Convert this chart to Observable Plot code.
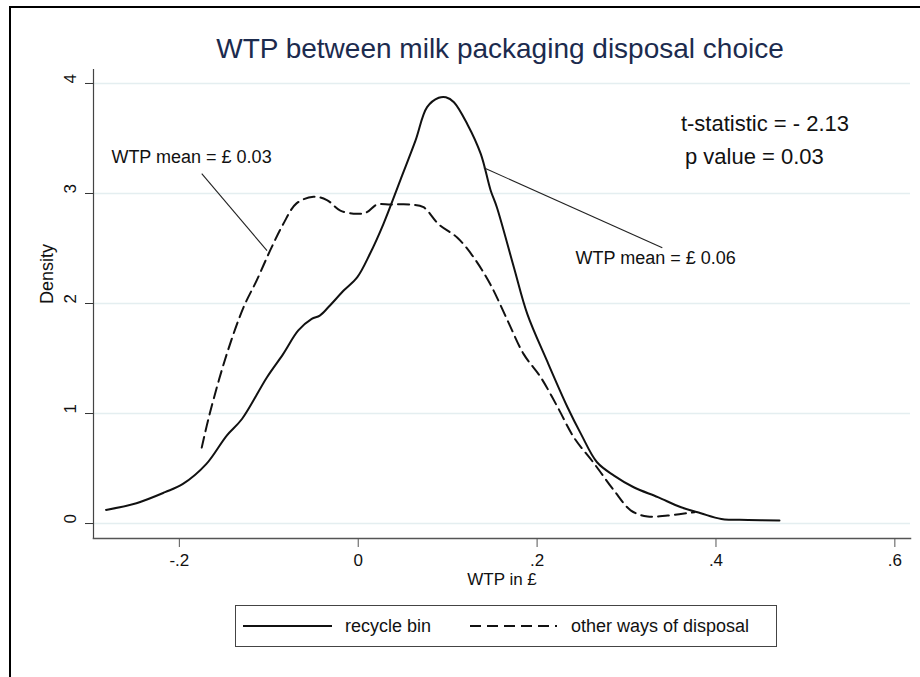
<!DOCTYPE html>
<html>
<head>
<meta charset="utf-8">
<script src="https://cdn.jsdelivr.net/npm/d3@7"></script>
<script src="https://cdn.jsdelivr.net/npm/@observablehq/plot@0.6"></script>
<style>
  html, body { margin: 0; padding: 0; background: #fff; }
  body { font-family: "Liberation Sans", Arial, sans-serif; }
  #wrap { position: relative; width: 920px; height: 677px; overflow: hidden; background: #fff; }
  #frame { position: absolute; left: 9px; top: 6px; width: 940px; height: 700px; border-left: 2px solid #000; border-top: 2px solid #000; box-sizing: border-box; }
  #title { position: absolute; left: 200px; width: 600px; top: 35px; text-align: center; font-size: 28px; line-height: 28px; color: #1c2b4e; white-space: nowrap; }
  #chart { position: absolute; left: 0; top: 0; }
  #legend { position: absolute; left: 235px; top: 605px; width: 542px; height: 42px; border: 1.5px solid #444; box-sizing: border-box; background: #fff; }
  #legend svg { position: absolute; left: 0; top: 0; }
  #legend .lab { position: absolute; top: 9px; font-size: 18px; line-height: 22px; color: #111; white-space: nowrap; }
</style>
</head>
<body>
<div id="wrap">
  <div id="frame"></div>
  <div id="chart"></div>
  <div id="title"></div>
  <div id="legend"></div>
</div>
<script>
// ---- data ----
const titleText = "WTP between milk packaging disposal choice";
const seriesNames = ["recycle bin", "other ways of disposal"];

const recycleX = [-0.282,-0.248,-0.216,-0.196,-0.170,-0.147,-0.130,-0.102,-0.084,-0.067,-0.052,-0.043,-0.033,-0.016,-0.001,0.013,0.028,0.047,0.064,0.077,0.090,0.098,0.107,0.122,0.137,0.148,0.155,0.174,0.189,0.211,0.234,0.249,0.267,0.286,0.308,0.335,0.361,0.383,0.406,0.436,0.471];
const recycleY = [0.124,0.185,0.285,0.36,0.54,0.80,0.95,1.33,1.54,1.755,1.86,1.89,1.97,2.12,2.24,2.45,2.72,3.12,3.48,3.785,3.87,3.875,3.83,3.63,3.36,3.03,2.875,2.33,1.906,1.48,1.057,0.815,0.557,0.436,0.33,0.24,0.148,0.094,0.042,0.033,0.027];

const otherX = [-0.175,-0.166,-0.147,-0.128,-0.1135,-0.0986,-0.084,-0.069,-0.050,-0.035,-0.020,-0.0015,0.0097,0.021,0.036,0.058,0.073,0.090,0.1106,0.129,0.148,0.167,0.185,0.204,0.223,0.241,0.264,0.286,0.305,0.3235,0.346,0.376];
const otherY = [0.69,1.0,1.54,1.97,2.21,2.48,2.72,2.91,2.97,2.94,2.845,2.815,2.83,2.9,2.9,2.9,2.875,2.72,2.60,2.42,2.17,1.845,1.54,1.33,1.057,0.785,0.543,0.30,0.118,0.064,0.073,0.103];

const xTicks = [-0.2, 0, 0.2, 0.4, 0.6];
const yTicks = [0, 1, 2, 3, 4];
const xLabel = "WTP in £";
const yLabel = "Density";

// annotations (data coordinates)
const noteTexts = ["WTP mean = £ 0.03", "WTP mean = £ 0.06"];
const noteX = [-0.276, 0.243];
const noteY = [3.325, 2.415];
const leaderX1 = [-0.175, 0.1404];
const leaderY1 = [3.18, 3.234];
const leaderX2 = [-0.102, 0.340];
const leaderY2 = [2.48, 2.506];
const statTexts = ["t-statistic = - 2.13", "p value = 0.03"];
const statX = [0.3608, 0.3653];
const statY = [3.634, 3.336];

// ---- build tables ----
const recycle = recycleX.map((x, i) => ({x, y: recycleY[i]}));
const other = otherX.map((x, i) => ({x, y: otherY[i]}));
const notes = noteTexts.map((t, i) => ({t, x: noteX[i], y: noteY[i]}));
const leaders = leaderX1.map((x1, i) => ({x1, y1: leaderY1[i], x2: leaderX2[i], y2: leaderY2[i]}));
const stats = statTexts.map((t, i) => ({t, x: statX[i], y: statY[i]}));

const fmtX = d => d === 0 ? "0" : (d < 0 ? "-" + String(-d).replace(/^0/, "") : String(d).replace(/^0/, ""));
const FONT = "Liberation Sans, Arial, sans-serif";

const chart = Plot.plot({
  width: 920,
  height: 600,
  marginLeft: 93,
  marginRight: 10,
  marginTop: 69,
  marginBottom: 62,
  style: {fontFamily: FONT, background: "transparent", overflow: "visible"},
  x: {domain: [-0.296, 0.6175]},
  y: {domain: [-0.136, 4.127]},
  marks: [
    Plot.gridY(yTicks, {stroke: "#e4eef0", strokeOpacity: 1, strokeWidth: 1.5}),
    Plot.frame({anchor: "left", stroke: "#444", strokeWidth: 1.2}),
    Plot.frame({anchor: "bottom", stroke: "#555", strokeWidth: 1.5}),
    Plot.axisY({ticks: yTicks, tickSize: 8, tickFormat: () => "", label: null, stroke: "#333"}),
    Plot.text(yTicks, {y: d => d, frameAnchor: "left", dx: -23, rotate: -90, text: d => String(d), fontSize: 17, fill: "#111"}),
    Plot.axisX({ticks: xTicks, tickSize: 9, tickPadding: 6, tickFormat: fmtX, fontSize: 17, label: null, stroke: "#555", fill: "#111"}),
    Plot.text([xLabel], {frameAnchor: "bottom", dy: 46, fontSize: 17, fill: "#111"}),
    Plot.text([yLabel], {frameAnchor: "left", dx: -46, rotate: -90, fontSize: 18, fill: "#111"}),
    Plot.line(recycle, {x: "x", y: "y", stroke: "#111", strokeWidth: 2, curve: "catmull-rom"}),
    Plot.line(other, {x: "x", y: "y", stroke: "#111", strokeWidth: 2, strokeDasharray: "11,6", curve: "catmull-rom"}),
    Plot.link(leaders, {x1: "x1", y1: "y1", x2: "x2", y2: "y2", stroke: "#222", strokeWidth: 1.1}),
    Plot.text(notes, {x: "x", y: "y", text: "t", textAnchor: "start", fontSize: 18, fill: "#111"}),
    Plot.text(stats, {x: "x", y: "y", text: "t", textAnchor: "start", fontSize: 22, fill: "#111"})
  ]
});
document.getElementById("chart").appendChild(chart);
document.getElementById("title").textContent = titleText;

// legend
const leg = document.getElementById("legend");
leg.innerHTML = `<svg width="540" height="40">
  <line x1="7" x2="96" y1="20" y2="20" stroke="#111" stroke-width="2"></line>
  <line x1="234" x2="321" y1="20" y2="20" stroke="#111" stroke-width="2" stroke-dasharray="11,6"></line>
</svg>`;
const l1 = document.createElement("div"); l1.className = "lab"; l1.style.left = "109px"; l1.textContent = seriesNames[0];
const l2 = document.createElement("div"); l2.className = "lab"; l2.style.left = "335px"; l2.textContent = seriesNames[1];
leg.appendChild(l1); leg.appendChild(l2);
</script>
</body>
</html>
